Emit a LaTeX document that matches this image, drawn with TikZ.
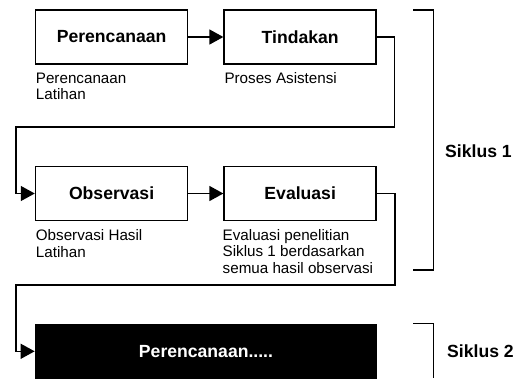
\documentclass[tikz,border=0pt]{standalone}
\usepackage{fontspec}
\setmainfont{Liberation Sans}
\usetikzlibrary{arrows.meta}
\begin{document}
\begin{tikzpicture}[x=1pt,y=-1pt,
  stagebox/.style={draw=black,line width=1.7pt,minimum width=152pt,minimum height=54pt,inner sep=0pt,font=\fontsize{17.6}{20}\selectfont\bfseries},
  sublabel/.style={anchor=base west,align=left,inner sep=0pt,font=\fontsize{15.2}{16.3}\selectfont},
  conn/.style={line width=1.4pt,-{Triangle[length=14pt,width=15pt]}},
  bracketline/.style={line width=1.6pt},
  cyclelabel/.style={anchor=west,inner sep=0pt,font=\fontsize{17.6}{20}\selectfont\bfseries}]
\useasboundingbox (0,0) rectangle (521,378);
% stage boxes
\node[stagebox] (p1) at (111.6,37) {Perencanaan};
\node[stagebox] (t1) at (300.2,37) {Tindakan};
\node[stagebox] (o1) at (111.6,193.5) {Observasi};
\node[stagebox] (e1) at (300.2,193.5) {Evaluasi};
\node[fill=black,draw=black,line width=1.7pt,minimum width=341pt,minimum height=53pt,inner sep=0pt,text=white,font=\fontsize{17.6}{20}\selectfont\bfseries] (p2) at (206,351.3) {Perencanaan.....};
% sub labels (anchor = baseline of last line)
\node[sublabel] (lp1) at (35.7,99.5) {Perencanaan\\Latihan};
\node[sublabel] (lt1) at (224.3,83.5) {Proses Asistensi};
\node[sublabel] (lo1) at (35.7,257) {Observasi Hasil\\Latihan};
\node[sublabel] (le1) at (222.5,273) {Evaluasi penelitian\\Siklus 1 berdasarkan\\semua hasil observasi};
% connectors
\draw[conn] (p1.east) -- (t1.west);
\draw[conn] (o1.east) -- (e1.west);
\coordinate (c1) at (394.5,127);
\coordinate (c2) at (16,127);
\draw[conn] (t1.east) -| (c1) -- (c2) |- (o1.west);
\coordinate (c3) at (395,285);
\coordinate (c4) at (16,285);
\draw[conn] (e1.east) -| (c3) -- (c4) |- (p2.west);
% brackets
\coordinate (b1a) at (413,10);
\coordinate (b1b) at (433.5,10);
\coordinate (b1c) at (433.5,270);
\coordinate (b1d) at (413,270);
\draw[bracketline] (b1a) -- (b1b) -- (b1c) -- (b1d);
\node[cyclelabel] (s1) at (445,151) {Siklus 1};
\coordinate (b2a) at (413,323.5);
\coordinate (b2b) at (433.5,323.5);
\coordinate (b2c) at (433.5,378);
\draw[bracketline] (b2a) -- (b2b) -- (b2c);
\node[cyclelabel] (s2) at (447,351.5) {Siklus 2};
\end{tikzpicture}
\end{document}
